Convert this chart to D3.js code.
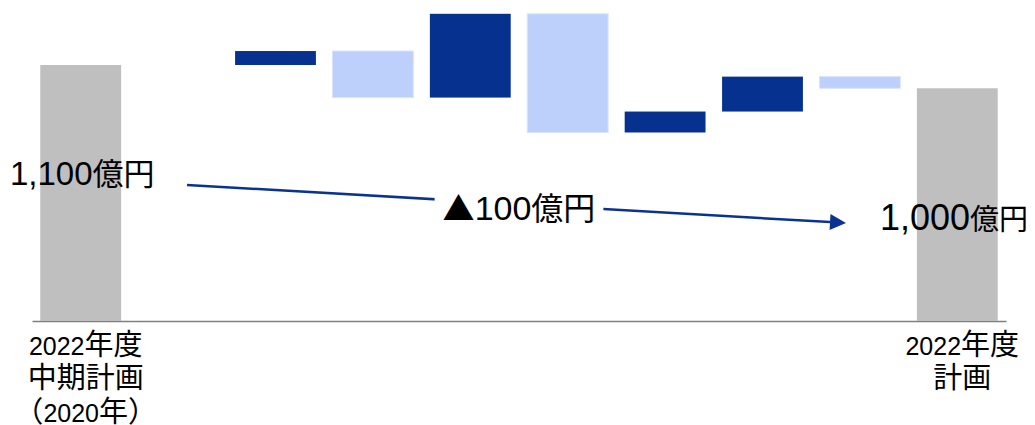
<!DOCTYPE html>
<html>
<head>
<meta charset="utf-8">
<script src="https://cdn.jsdelivr.net/npm/d3@7"></script>
<style>
  html, body { margin: 0; padding: 0; background: #fff; }
  svg { display: block; }
</style>
</head>
<body>
<svg id="chart" width="1035" height="425"></svg>
<script>
// ---- data ----
const categoryLabels = [
  ["2022年度", "中期計画", "（2020年）"],
  [], [], [], [], [], [], [], [],
  ["2022年度", "計画"]
];
const startValue = 1100;
const endValue = 1000;
const deltas = [0, 60, -200, 360, -510, 90, 150, -50]; // intermediate steps (first slot empty)
const startLabel = "1,100億円";
const endLabel = "1,000億円";
const diffLabel = "▲100億円";

// ---- build waterfall rows ----
const rows = [];
rows.push({ i: 0, y0: 0, y1: startValue, type: "total" });
let run = startValue;
deltas.forEach((d, k) => {
  rows.push({ i: k + 1, y0: run, y1: run + d, type: d >= 0 ? "up" : "down", d });
  run += d;
});
rows.push({ i: deltas.length + 1, y0: 0, y1: endValue, type: "total" });

const colors = { total: "#BFBFBF", up: "#07318F", down: "#BDD0FB" };

const svg = d3.select("#chart");
const x = d3.scaleBand()
  .domain(d3.range(categoryLabels.length))
  .range([32, 1006])
  .paddingInner(0.17)
  .paddingOuter(0.085);
const y = d3.scaleLinear().domain([0, 1100]).range([321, 65]);

// axis baseline
const axis = svg.append("g")
  .attr("transform", `translate(0,${y(0)})`)
  .call(d3.axisBottom(x).tickSize(0).tickSizeOuter(0).tickFormat(""));
axis.select(".domain").attr("stroke", "#7F7F7F").attr("stroke-width", 1.6);

// bars
svg.append("g").selectAll("rect")
  .data(rows.filter(r => r.y0 !== r.y1))
  .join("rect")
  .attr("x", d => x(d.i))
  .attr("width", x.bandwidth())
  .attr("y", d => y(Math.max(d.y0, d.y1)))
  .attr("height", d => Math.abs(y(d.y0) - y(d.y1)))
  .attr("fill", d => colors[d.type])
  .attr("stroke", d => d.type === "down" ? "#D8E3FC" : "none")
  .attr("stroke-width", 1);

// rich text helper: latin runs in Liberation Sans, CJK in Noto Sans CJK JP
const LATIN = "'Liberation Sans', Arial, sans-serif";
const CJK = "'Noto Sans CJK JP', sans-serif";
function rich(t, str, latinSize, cjkSize) {
  const parts = str.match(/[\x00-\x7F]+|[^\x00-\x7F]+/g) || [];
  parts.forEach(p => {
    const isLatin = /[\x00-\x7F]/.test(p[0]);
    t.append("tspan")
      .attr("font-family", isLatin ? LATIN : CJK)
      .attr("font-size", isLatin ? latinSize : cjkSize)
      .text(p);
  });
  return t;
}

// category labels
const labelG = svg.append("g").attr("fill", "#000");
categoryLabels.forEach((lines, i) => {
  lines.forEach((ln, j) => {
    const t = labelG.append("text")
      .attr("x", x(i) + x.bandwidth() / 2 + 5)
      .attr("y", y(0) + 33.5 + j * 33.5)
      .attr("text-anchor", "middle");
    rich(t, ln, 25, 29);
  });
});

// arrow annotation
const arrowStart = [187, 185], arrowTip = [846, 223];
const ang = Math.atan2(arrowTip[1] - arrowStart[1], arrowTip[0] - arrowStart[0]);
const headLen = 16, headHalf = 8;
const base = [arrowTip[0] - headLen * Math.cos(ang), arrowTip[1] - headLen * Math.sin(ang)];
const arrowColor = "#0A3391";
svg.append("line")
  .attr("x1", arrowStart[0]).attr("y1", arrowStart[1])
  .attr("x2", base[0]).attr("y2", base[1])
  .attr("stroke", arrowColor).attr("stroke-width", 2.5);
svg.append("path")
  .attr("d", d3.line()([
    arrowTip,
    [base[0] + headHalf * Math.sin(ang), base[1] - headHalf * Math.cos(ang)],
    [base[0] - headHalf * Math.sin(ang), base[1] + headHalf * Math.cos(ang)]
  ]) + "Z")
  .attr("fill", arrowColor);

// difference label with white box
const diffG = svg.append("g");
const diffBg = diffG.append("rect").attr("fill", "#fff");
const diffText = rich(diffG.append("text").attr("x", 519).attr("y", 220).attr("text-anchor", "middle"), diffLabel, 34, 32);
const bb = diffText.node().getBBox();
diffBg.attr("x", bb.x - 8).attr("y", bb.y).attr("width", bb.width + 16).attr("height", bb.height);

// start / end value labels
rich(svg.append("text").attr("x", 10).attr("y", 185), startLabel, 33, 31);
rich(svg.append("text").attr("x", 880).attr("y", 229.5), endLabel, 36, 29);
</script>
</body>
</html>
